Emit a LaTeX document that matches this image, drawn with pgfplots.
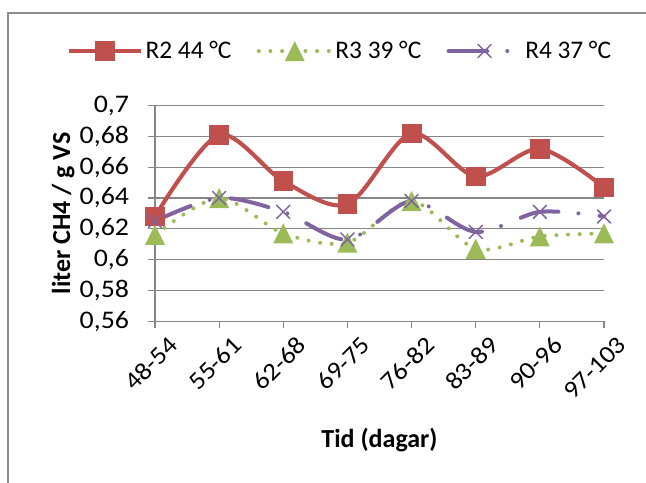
\documentclass[border=0pt]{standalone}
\usepackage{fontspec}
\setmainfont{Carlito}
\newfontfamily\tickfont{Carlito}[FakeStretch=1.1]
\usepackage{pgfplots}
\pgfplotsset{compat=1.18}

\definecolor{rtwo}{HTML}{C0504D}
\definecolor{rthree}{HTML}{9BBB59}
\definecolor{rfour}{HTML}{8064A2}
\definecolor{gridgray}{HTML}{868686}
\definecolor{framegray}{HTML}{8C8C8C}

% filled triangle as wide as it is tall
\pgfdeclareplotmark{eqtri}{%
  \pgfpathmoveto{\pgfqpoint{0pt}{\pgfplotmarksize}}%
  \pgfpathlineto{\pgfqpoint{-\pgfplotmarksize}{-\pgfplotmarksize}}%
  \pgfpathlineto{\pgfqpoint{\pgfplotmarksize}{-\pgfplotmarksize}}%
  \pgfpathclose\pgfusepathqfill}

\begin{document}
\begin{tikzpicture}
\path[use as bounding box] (0pt,0pt) rectangle (484.5pt,-361.5pt);
\draw[framegray, line width=0.8pt] (6pt,-362pt) -- (6pt,-9.75pt) -- (485pt,-9.75pt);
\begin{axis}[
  at={(116.25pt,-79.3pt)}, anchor=north west,
  scale only axis, width=336.75pt, height=161.5pt,
  xmin=0, xmax=7, ymin=0.56, ymax=0.7,
  clip=false,
  axis lines*=left,
  axis line style={gridgray, line width=0.8pt},
  tick style={gridgray, line width=0.8pt},
  tick align=outside, major tick length=5.25pt,
  ymajorgrids, grid style={gridgray, line width=0.8pt},
  xtick={0,...,7},
  xticklabels={48-54,55-61,62-68,69-75,76-82,83-89,90-96,97-103},
  ytick={0.56,0.58,0.6,0.62,0.64,0.66,0.68,0.7},
  yticklabels={{0,56},{0,58},{0,6},{0,62},{0,64},{0,66},{0,68},{0,7}},
  yticklabel style={font=\tickfont\fontsize{19}{21}\selectfont, anchor=east, inner sep=0pt, xshift=-14pt},
  xticklabel style={font=\tickfont\fontsize{18.5}{20}\selectfont, rotate=45, anchor=north east, inner sep=0pt, xshift=3pt, yshift=-10pt},
  xlabel={Tid (dagar)},
  xlabel style={font=\bfseries\fontsize{19.5}{22}\selectfont, at={(axis description cs:0.5,-0.585)}, anchor=base},
  ylabel={liter CH4 / g VS},
  ylabel style={font=\bfseries\fontsize{19.5}{22}\selectfont, at={(axis description cs:-0.189,0.5)}, anchor=base},
  legend columns=3,
  legend style={at={(axis description cs:-0.197,1.254)}, anchor=west, draw=none, fill=none,
    inner sep=0pt, font=\fontsize{19}{21}\selectfont,
    /tikz/every even column/.append style={column sep=17pt}},
  legend image code/.code={%
    \draw[mark repeat=2,mark phase=2,#1] plot coordinates {(0pt,0pt) (27pt,0pt) (54pt,0pt)};},
]
\addplot[rtwo, line width=3.1pt, smooth, tension=0.5,
  mark=square*, mark size=7pt, mark options={solid, fill=rtwo, line width=0.6pt}]
  coordinates {(0,0.628) (1,0.681) (2,0.651) (3,0.636) (4,0.682) (5,0.654) (6,0.672) (7,0.647)};
\addlegendentry{R2 44 °C}
\addplot[rthree, line width=3pt, line cap=round, dash pattern=on 0pt off 8.75pt, smooth, tension=0.5,
  mark=eqtri, mark size=7.5pt, mark options={solid, fill=rthree}]
  coordinates {(0,0.616) (1,0.640) (2,0.617) (3,0.611) (4,0.638) (5,0.607) (6,0.615) (7,0.617)};
\addlegendentry{R3 39 °C}
\addplot[rfour, line width=3pt, line cap=round, dash pattern=on 29pt off 15pt on 0pt off 16pt, smooth, tension=0.5,
  mark=x, mark size=7pt, mark options={solid, line width=1.1pt}]
  coordinates {(0,0.625) (1,0.640) (2,0.631) (3,0.613) (4,0.638) (5,0.618) (6,0.631) (7,0.628)};
\addlegendentry{R4 37 °C}
\end{axis}
\end{tikzpicture}
\end{document}
